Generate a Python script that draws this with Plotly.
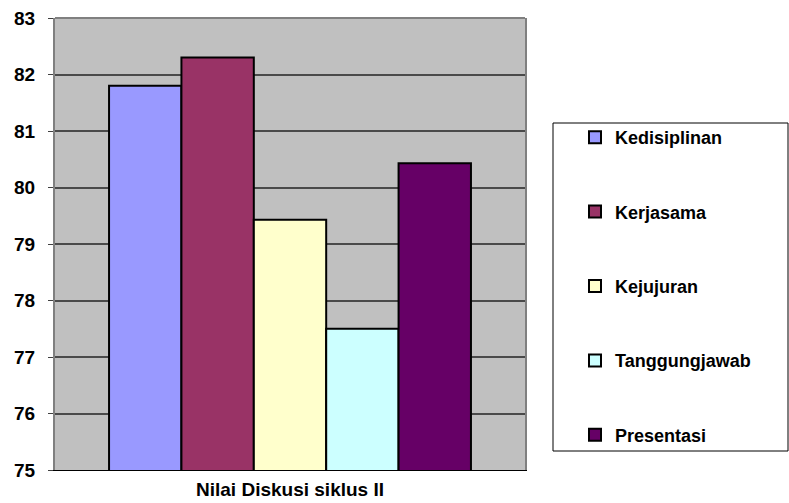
import plotly.graph_objects as go

category = ["Nilai Diskusi siklus II"]
series = ["Kedisiplinan", "Kerjasama", "Kejujuran", "Tanggungjawab", "Presentasi"]
values = [81.8, 82.3, 79.43, 77.5, 80.43]
colors = ["#9999FF", "#993366", "#FFFFCC", "#CCFFFF", "#660066"]
y_ticks = [75, 76, 77, 78, 79, 80, 81, 82, 83]

FONT = "Liberation Sans, Arial, sans-serif"

fig = go.Figure()
for name, v, c in zip(series, values, colors):
    fig.add_trace(go.Bar(
        x=category, y=[v], name=f"<b>{name}</b>", legendgroup=name,
        marker=dict(color=c, line=dict(color="black", width=2)),
    ))

L, R, T, B = 55, 525, 18, 470
W, H = 789, 503
pw = R - L
ph = B - T

def px_x(p):
    return (p - L) / pw

def px_y(p):
    return (B - p) / ph

fig.update_layout(
    width=W, height=H,
    margin=dict(l=L, r=W - R, t=T, b=H - B),
    paper_bgcolor="white",
    plot_bgcolor="#C0C0C0",
    barmode="group",
    bargap=0.23,
    bargroupgap=0,
    font=dict(family=FONT, size=17, color="black"),
    xaxis=dict(
        showline=True, linecolor="black", linewidth=1,
        ticks="", tickfont=dict(size=19, family=FONT),
        tickvals=category, ticktext=[f"<b>{c}</b>" for c in category],
        ticklabelstandoff=2,
        showgrid=False, automargin=False,
    ),
    yaxis=dict(
        range=[75, 83], tickvals=y_ticks,
        ticktext=[f"<b>{t}</b>" for t in y_ticks],
        showline=True, linecolor="#808080", linewidth=2, mirror=True,
        ticks="outside", ticklen=5, tickcolor="#404040", tickwidth=1,
        ticklabelstandoff=9,
        gridcolor="#4A4A4A", gridwidth=1.5,
        tickfont=dict(size=19, family=FONT),
        zeroline=False, automargin=False,
    ),
    legend=dict(
        x=px_x(575), xanchor="left",
        y=px_y(119), yanchor="top",
        bgcolor="rgba(0,0,0,0)",
        borderwidth=0,
        traceorder="grouped",
        tracegroupgap=48,
        font=dict(size=18, family=FONT),
    ),
    shapes=[
        dict(type="rect", xref="paper", yref="paper",
             x0=px_x(553), x1=px_x(788), y0=px_y(451), y1=px_y(123),
             line=dict(color="black", width=1), fillcolor="white", layer="below"),
        dict(type="line", xref="paper", yref="paper",
             x0=0, x1=1, y0=1, y1=1, line=dict(color="#808080", width=2)),
    ],
)

fig.write_html("out.html")
